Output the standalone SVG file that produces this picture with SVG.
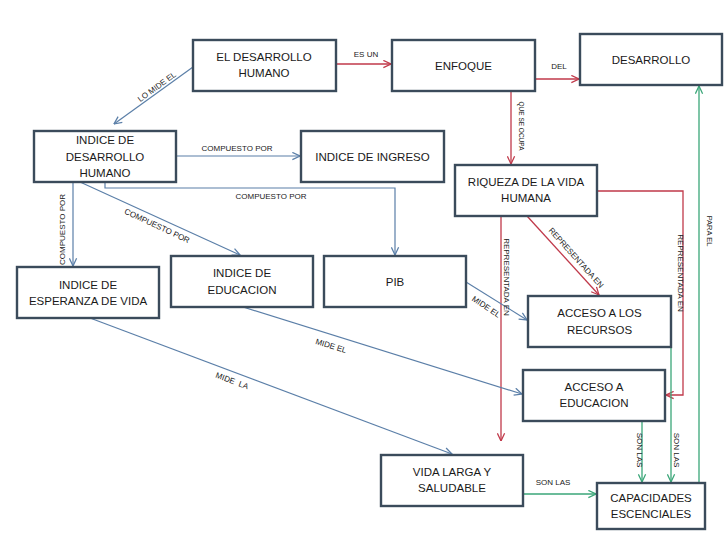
<svg xmlns="http://www.w3.org/2000/svg" width="728" height="546" viewBox="0 0 728 546">
<style>
.bx{fill:#fff;stroke:#3b4b5b;stroke-width:2.4}
.t{font-family:"Liberation Sans",Arial,sans-serif;font-size:11.5px;fill:#1a1a1a;text-anchor:middle;dominant-baseline:central}
.l{font-family:"Liberation Sans",Arial,sans-serif;font-size:8px;fill:#1a1a1a;text-anchor:middle;dominant-baseline:central}
.r{fill:none;stroke:#c0394a;stroke-width:1.3}
.b{fill:none;stroke:#5b7fa8;stroke-width:1.2}
.g{fill:none;stroke:#3aa678;stroke-width:1.3}
</style>
<defs>
<marker id="ar" viewBox="0 0 10 10" refX="9.5" refY="5" markerWidth="9" markerHeight="9" markerUnits="userSpaceOnUse" orient="auto"><path d="M1,1 L9.5,5 L1,9" fill="none" stroke="#c0394a" stroke-width="1.4"/></marker>
<marker id="ab" viewBox="0 0 10 10" refX="9.5" refY="5" markerWidth="9" markerHeight="9" markerUnits="userSpaceOnUse" orient="auto"><path d="M1,1 L9.5,5 L1,9" fill="none" stroke="#5b7fa8" stroke-width="1.4"/></marker>
<marker id="ag" viewBox="0 0 10 10" refX="9.5" refY="5" markerWidth="9" markerHeight="9" markerUnits="userSpaceOnUse" orient="auto"><path d="M1,1 L9.5,5 L1,9" fill="none" stroke="#3aa678" stroke-width="1.4"/></marker>
</defs>
<rect width="728" height="546" fill="#fff"/>
<g id="connectors">
<path class="r" d="M336,64 L391,64" marker-end="url(#ar)"/>
<path class="r" d="M535,79 L579,79" marker-end="url(#ar)"/>
<path class="r" d="M511,91 L511,164" marker-end="url(#ar)"/>
<path class="r" d="M501,216 L501,441" marker-end="url(#ar)"/>
<path class="r" d="M527,216 L599,295" marker-end="url(#ar)"/>
<path class="r" d="M597,191 L683,191 L683,395 L666,395" marker-end="url(#ar)"/>
<path class="b" d="M193,67 L114,124" marker-end="url(#ab)"/>
<path class="b" d="M176,156 L300,156" marker-end="url(#ab)"/>
<path class="b" d="M105,182 L105,188 L395,188 L395,255" marker-end="url(#ab)"/>
<path class="b" d="M73,182 L73,266" marker-end="url(#ab)"/>
<path class="b" d="M80,182 L240,255" marker-end="url(#ab)"/>
<path class="b" d="M243,307 L522,394" marker-end="url(#ab)"/>
<path class="b" d="M90,318 L452,454" marker-end="url(#ab)"/>
<path class="b" d="M466,282 L527,320" marker-end="url(#ab)"/>
<path class="g" d="M642,421 L642,482" marker-end="url(#ag)"/>
<path class="g" d="M671,347 L671,482" marker-end="url(#ag)"/>
<path class="g" d="M699,483 L699,86" marker-end="url(#ag)"/>
<path class="g" d="M523,494 L596,494" marker-end="url(#ag)"/>
<text class="l" x="366" y="54">ES UN</text>
<text class="l" x="559" y="66">DEL</text>
<text class="l" font-size="6.5" transform="translate(521,126) rotate(90)" style="font-size:6.5px">QUE SE OCUPA</text>
<text class="l" transform="translate(157,87) rotate(-36)">LO MIDE EL</text>
<text class="l" x="237" y="148.5">COMPUESTO POR</text>
<text class="l" x="271" y="196.5">COMPUESTO POR</text>
<text class="l" transform="translate(62.5,229.5) rotate(-90)">COMPUESTO POR</text>
<text class="l" transform="translate(157,226) rotate(25)">COMPUESTO POR</text>
<text class="l" transform="translate(331,346) rotate(17)">MIDE EL</text>
<text class="l" xml:space="preserve" transform="translate(232,381) rotate(20.5)">MIDE  LA</text>
<text class="l" transform="translate(486,307) rotate(34)">MIDE EL</text>
<text class="l" transform="translate(506,277) rotate(90)">REPRESENTADA EN</text>
<text class="l" transform="translate(576,258) rotate(48)">REPRESENTADA EN</text>
<text class="l" transform="translate(680,273) rotate(90)">REPRESENTADA EN</text>
<text class="l" transform="translate(639,450) rotate(90)">SON LAS</text>
<text class="l" transform="translate(676,450) rotate(90)">SON LAS</text>
<text class="l" transform="translate(709,231) rotate(90)" style="font-size:7.5px">PARA EL</text>
<text class="l" x="553" y="482.5">SON LAS</text>
</g>
<g id="n-desarrollo-humano"><rect class="bx" x="193" y="40" width="143" height="51"/><text class="t" x="264" y="57">EL DESARROLLO</text><text class="t" x="264" y="73">HUMANO</text></g>
<g id="n-enfoque"><rect class="bx" x="392" y="40" width="143" height="51"/><text class="t" x="463.5" y="65.5">ENFOQUE</text></g>
<g id="n-desarrollo"><rect class="bx" x="580" y="34" width="142" height="51"/><text class="t" x="651" y="59.5">DESARROLLO</text></g>
<g id="n-idh"><rect class="bx" x="34" y="131" width="142" height="51"/><text class="t" x="105" y="140">INDICE DE</text><text class="t" x="105" y="157">DESARROLLO</text><text class="t" x="105" y="173">HUMANO</text></g>
<g id="n-ingreso"><rect class="bx" x="301" y="131" width="143" height="51"/><text class="t" x="372.5" y="157">INDICE DE INGRESO</text></g>
<g id="n-riqueza"><rect class="bx" x="455" y="165" width="142" height="51"/><text class="t" x="526" y="182">RIQUEZA DE LA VIDA</text><text class="t" x="526" y="198">HUMANA</text></g>
<g id="n-esperanza"><rect class="bx" x="17" y="267" width="142" height="51"/><text class="t" x="88" y="285">INDICE DE</text><text class="t" x="88" y="301">ESPERANZA DE VIDA</text></g>
<g id="n-educacion"><rect class="bx" x="171" y="256" width="142" height="51"/><text class="t" x="242" y="273">INDICE DE</text><text class="t" x="242" y="289.5">EDUCACION</text></g>
<g id="n-pib"><rect class="bx" x="324" y="256" width="142" height="51"/><text class="t" x="395" y="282">PIB</text></g>
<g id="n-recursos"><rect class="bx" x="528" y="296" width="143" height="51"/><text class="t" x="599.5" y="313">ACCESO A LOS</text><text class="t" x="599.5" y="330">RECURSOS</text></g>
<g id="n-acceso-educacion"><rect class="bx" x="523" y="370" width="142" height="51"/><text class="t" x="594" y="387">ACCESO A</text><text class="t" x="594" y="403">EDUCACION</text></g>
<g id="n-vida"><rect class="bx" x="381" y="455" width="142" height="51"/><text class="t" x="452" y="472">VIDA LARGA Y</text><text class="t" x="452" y="488">SALUDABLE</text></g>
<g id="n-capacidades"><rect class="bx" x="597" y="483" width="108" height="46"/><text class="t" x="651" y="498">CAPACIDADES</text><text class="t" x="651" y="514">ESCENCIALES</text></g>
</svg>
